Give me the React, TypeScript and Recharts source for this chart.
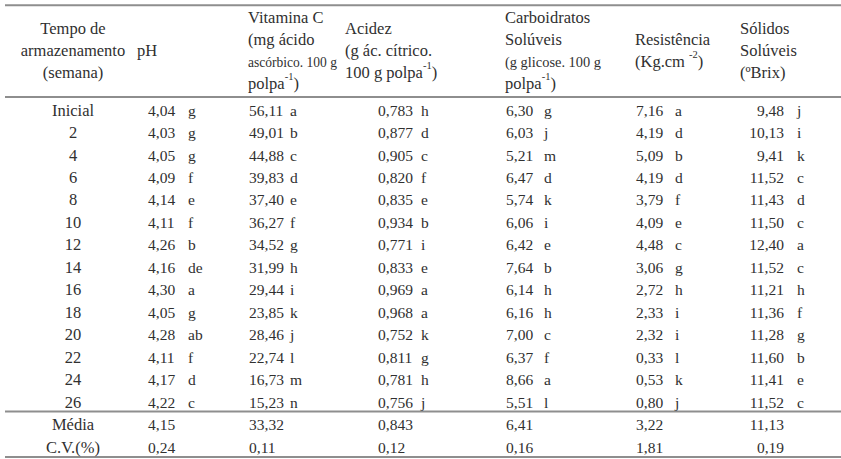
import { ReferenceLine, Scatter, ScatterChart, XAxis, YAxis } from 'recharts';

const tempo = ['Inicial', '2', '4', '6', '8', '10', '12', '14', '16', '18', '20', '22', '24', '26'];

const ph = [4.04, 4.03, 4.05, 4.09, 4.14, 4.11, 4.26, 4.16, 4.3, 4.05, 4.28, 4.11, 4.17, 4.22];
const phLetras = ['g', 'g', 'g', 'f', 'e', 'f', 'b', 'de', 'a', 'g', 'ab', 'f', 'd', 'c'];

const vitaminaC = [56.11, 49.01, 44.88, 39.83, 37.4, 36.27, 34.52, 31.99, 29.44, 23.85, 28.46, 22.74, 16.73, 15.23];
const vitaminaCLetras = ['a', 'b', 'c', 'd', 'e', 'f', 'g', 'h', 'i', 'k', 'j', 'l', 'm', 'n'];

const acidez = [0.783, 0.877, 0.905, 0.82, 0.835, 0.934, 0.771, 0.833, 0.969, 0.968, 0.752, 0.811, 0.781, 0.756];
const acidezLetras = ['h', 'd', 'c', 'f', 'e', 'b', 'i', 'e', 'a', 'a', 'k', 'g', 'h', 'j'];

const carboidratos = [6.3, 6.03, 5.21, 6.47, 5.74, 6.06, 6.42, 7.64, 6.14, 6.16, 7.0, 6.37, 8.66, 5.51];
const carboidratosLetras = ['g', 'j', 'm', 'd', 'k', 'i', 'e', 'b', 'h', 'h', 'c', 'f', 'a', 'l'];

const resistencia = [7.16, 4.19, 5.09, 4.19, 3.79, 4.09, 4.48, 3.06, 2.72, 2.33, 2.32, 0.33, 0.53, 0.8];
const resistenciaLetras = ['a', 'd', 'b', 'd', 'f', 'e', 'c', 'g', 'h', 'i', 'i', 'l', 'k', 'j'];

const solidos = [9.48, 10.13, 9.41, 11.52, 11.43, 11.5, 12.4, 11.52, 11.21, 11.36, 11.28, 11.6, 11.41, 11.52];
const solidosLetras = ['j', 'i', 'k', 'c', 'd', 'c', 'a', 'c', 'h', 'f', 'g', 'b', 'e', 'c'];

const media = [4.15, 33.32, 0.843, 6.41, 3.22, 11.13];
const cv = [0.24, 0.11, 0.12, 0.16, 1.81, 0.19];
const resumoRotulos = ['Média', 'C.V.(%)'];

const cabecalhos = [
  ['Tempo de', 'armazenamento', '(semana)'],
  ['pH'],
  ['Vitamina C', '(mg ácido', 'ascórbico. 100 g', 'polpa^{-1})'],
  ['Acidez', '(g ác. cítrico.', '100 g polpa^{-1})'],
  ['Carboidratos', 'Solúveis', '(g glicose. 100 g', 'polpa^{-1})'],
  ['Resistência', '(Kg.cm ^{-2})'],
  ['Sólidos', 'Solúveis', '(ºBrix)'],
];

const W = 841;
const H = 459;
const FONT = '"Liberation Serif", "Times New Roman", Times, serif';
const FS_TEXT = 16.5;
const FS_NUM = 15.5;
const TEXT = '#303030';
const RULE = '#8e8e8e';
const LINE_H = 22;

// header lines that are squeezed to fit their cell in the source table
const apertadas: Record<string, number> = { 'ascórbico. 100 g': 89, '(g glicose. 100 g': 96 };

// column layout: header x, value x, letter x, anchor
const colunas = [
  { header: 73, value: 73, letter: 0, anchor: 'middle' },
  { header: 137, value: 148, letter: 188, anchor: 'start', dec: 2, valores: ph, letras: phLetras },
  { header: 248, value: 249, letter: 290, anchor: 'start', dec: 2, valores: vitaminaC, letras: vitaminaCLetras },
  { header: 345, value: 378, letter: 421, anchor: 'start', dec: 3, valores: acidez, letras: acidezLetras },
  { header: 505, value: 506, letter: 544, anchor: 'start', dec: 2, valores: carboidratos, letras: carboidratosLetras },
  { header: 635, value: 636, letter: 675, anchor: 'start', dec: 2, valores: resistencia, letras: resistenciaLetras },
  { header: 740, value: 784, letter: 797, anchor: 'end', dec: 2, valores: solidos, letras: solidosLetras },
];

const fmt = (v: number, d: number) => v.toFixed(d).replace('.', ',');

// y axis in row units: row 0 = Inicial
const HEADER_ROW = -2.67;
const RULES = [-4.67, -0.58, 13.42, 15.44];

type Cell = { x: number; y: number; text: string; letter?: string; anchor: string; dx?: number; fs: number };

const cellsFor = (ci: number): Cell[] => {
  const c = colunas[ci];
  if (ci === 0) {
    return [...tempo, ...resumoRotulos].map((t, i) => ({ x: c.value, y: i, text: t, anchor: 'middle', fs: FS_TEXT }));
  }
  const idx = ci - 1;
  const rows: Cell[] = (c.valores as number[]).map((v, i) => ({
    x: c.value,
    y: i,
    text: fmt(v, c.dec as number),
    letter: (c.letras as string[])[i],
    anchor: c.anchor,
    dx: c.letter - c.value,
    fs: FS_NUM,
  }));
  rows.push({ x: c.value, y: tempo.length, text: fmt(media[idx], c.dec as number), anchor: c.anchor, fs: FS_NUM });
  rows.push({ x: c.value, y: tempo.length + 1, text: fmt(cv[idx], 2), anchor: c.anchor, fs: FS_NUM });
  return rows;
};

const CellShape = (props: any) => {
  const { cx, cy, payload } = props;
  const st = { fontFamily: FONT, fontSize: payload.fs, fill: TEXT };
  return (
    <g>
      <text x={cx} y={cy} textAnchor={payload.anchor} dominantBaseline="central" style={st}>
        {payload.text}
      </text>
      {payload.letter && (
        <text x={cx + payload.dx} y={cy} textAnchor="start" dominantBaseline="central" style={st}>
          {payload.letter}
        </text>
      )}
    </g>
  );
};

const renderLine = (line: string) => {
  const parts = line.split(/\^\{([^}]*)\}/);
  return parts.map((p, i) =>
    i % 2 === 1 ? (
      <tspan key={i} style={{ fontSize: 10.5 }} dy={-7}>
        {p}
      </tspan>
    ) : (
      <tspan key={i} dy={i > 0 ? 7 : 0}>
        {p}
      </tspan>
    ),
  );
};

const HeaderShape = (props: any) => {
  const { cx, cy, payload } = props;
  const lines: string[] = payload.lines;
  const top = cy - ((lines.length - 1) * LINE_H) / 2;
  return (
    <g>
      {lines.map((l, i) => {
        const squeeze = apertadas[l];
        const st = { fontFamily: FONT, fontSize: squeeze ? 15.5 : FS_TEXT, fill: TEXT };
        return (
          <text
            key={i}
            x={cx}
            y={top + i * LINE_H}
            textAnchor={payload.anchor}
            dominantBaseline="central"
            style={st}
            {...(squeeze ? { textLength: squeeze, lengthAdjust: 'spacingAndGlyphs' } : {})}
          >
            {renderLine(l)}
          </text>
        );
      })}
    </g>
  );
};

const headerData = cabecalhos.map((lines, i) => ({
  x: colunas[i].header,
  y: HEADER_ROW,
  lines,
  anchor: i === 0 ? 'middle' : 'start',
}));

const App = () => {
  return (
    <div style={{ position: 'absolute', left: 0, top: 0, background: '#fff', fontFamily: FONT }}>
      <ScatterChart width={W} height={H} margin={{ top: 0, right: 0, bottom: 0, left: 0 }}>
        <XAxis type="number" dataKey="x" domain={[0, W]} hide allowDataOverflow />
        <YAxis type="number" dataKey="y" domain={[-4.9, 15.53]} reversed hide allowDataOverflow />
        {RULES.map((r) => (
          <ReferenceLine
            key={r}
            segment={[
              { x: 5, y: r },
              { x: W, y: r },
            ]}
            stroke={RULE}
            strokeWidth={2}
          />
        ))}
        <Scatter data={headerData} shape={HeaderShape} isAnimationActive={false} />
        {colunas.map((_, ci) => (
          <Scatter key={ci} data={cellsFor(ci)} shape={CellShape} isAnimationActive={false} />
        ))}
      </ScatterChart>
    </div>
  );
};

export default App;
